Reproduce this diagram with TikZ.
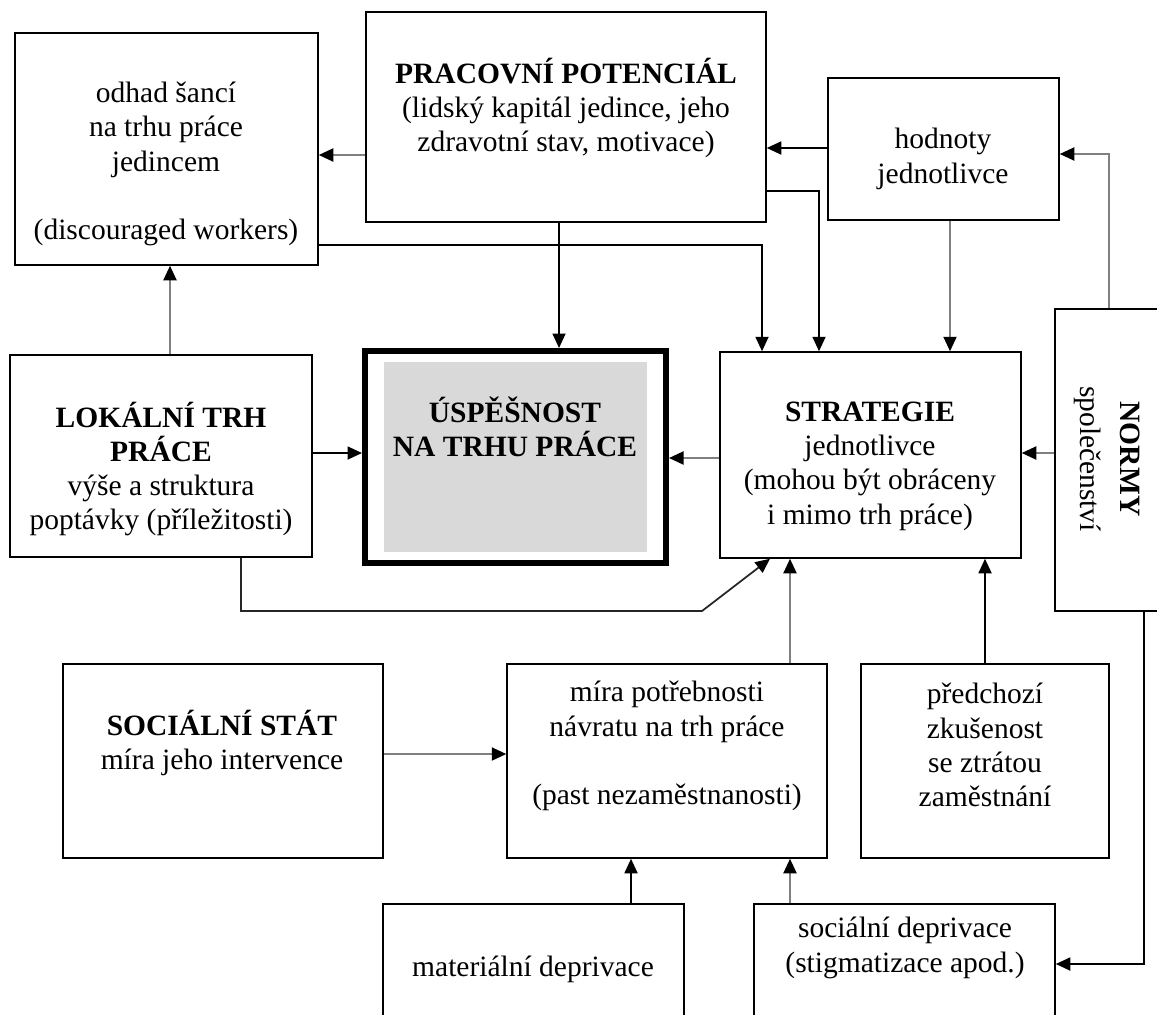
\documentclass[tikz,border=0pt]{standalone}
\usepackage{fontspec}
\setmainfont{Liberation Serif}
\usetikzlibrary{arrows.meta}
\definecolor{lgray}{RGB}{128,128,128}
\definecolor{ufill}{RGB}{217,217,217}
\begin{document}
\begin{tikzpicture}[x=0.4pt,y=-0.4pt,
  box/.style={draw=black,line width=0.6pt,inner sep=0pt,rectangle},
  wh/.style 2 args={minimum width=#1*0.4pt,minimum height=#2*0.4pt},
  txt/.style={align=center,inner sep=0pt,font=\fontsize{11.8}{13.7}\selectfont},
  tip/.style={-{Triangle[length=5.8pt,width=5.2pt,color=black]}},
  bl/.style={tip,draw=black,line width=0.7pt},
  gl/.style={tip,draw=lgray,line width=0.8pt},
  dl/.style={tip,draw=black!85,line width=0.7pt}]
\useasboundingbox (0,0) rectangle (1157,1014);
\clip (0,0) rectangle (1157,1014);
% boxes
\node[box,wh={303}{232}] (A) at (166.5,149) {};
\node[box,wh={400}{210}] (P) at (566,117) {};
\node[box,wh={231}{142}] (H) at (943.5,149) {};
\node[box,wh={302}{202}] (L) at (161,456) {};
\node[draw=black,line width=2.4pt,inner sep=0pt,wh={301}{212}] (U) at (515.5,457) {};
\node[fill=ufill,inner sep=0pt,wh={263}{190}] (Ui) at (515.5,457) {};
\node[box,wh={301}{206}] (S) at (870.5,455) {};
\node[box,wh={120}{302}] (N) at (1115,460) {};
\node[box,wh={320}{194}] (Soc) at (223,761) {};
\node[box,wh={320}{194}] (M) at (667,761) {};
\node[box,wh={248}{194}] (Pr) at (985,761) {};
\node[box,wh={301}{136}] (Mat) at (533.5,972) {};
\node[box,wh={301}{136}] (SD) at (904.5,972) {};
% texts
\node[txt] (At) at (166,164) {odhad šancí\\na trhu práce\\jedincem\\[13.7pt](discouraged workers)};
\node[txt] (Pt) at (566,108) {\textbf{PRACOVNÍ POTENCIÁL}\\(lidský kapitál jedince, jeho\\zdravotní stav, motivace)};
\node[txt] (Ht) at (943,159) {hodnoty\\jednotlivce};
\node[txt] (Lt) at (161,469) {\textbf{LOKÁLNÍ TRH}\\\textbf{PRÁCE}\\výše a struktura\\poptávky (příležitosti)};
\node[txt] (Ut) at (515,427) {\textbf{ÚSPĚŠNOST}\\\textbf{NA TRHU PRÁCE}};
\node[txt] (St) at (870,466) {\textbf{STRATEGIE}\\jednotlivce\\(mohou být obráceny\\i mimo trh práce)};
\node[txt,rotate=-90] (Nt) at (1107,459) {\textbf{NORMY}\\[2pt]společenství};
\node[txt] (Soct) at (222,743) {\textbf{SOCIÁLNÍ STÁT}\\míra jeho intervence};
\node[txt] (Mt) at (667,746) {míra potřebnosti\\návratu na trh práce\\[13.7pt](past nezaměstnanosti)};
\node[txt] (Prt) at (985,745) {předchozí\\zkušenost\\se ztrátou\\zaměstnání};
\node[txt] (Matt) at (533,969) {materiální deprivace};
\node[txt] (SDt) at (905,948) {sociální deprivace\\(stigmatizace apod.)};
% connectors
\draw[gl] (P.west |- 0,155) -- (A.east |- 0,155);
\draw[bl] (H.west |- 0,148) -- (P.east |- 0,148);
\draw[gl] (N.north -| 1109,0) |- (H.east |- 0,154);
\draw[bl] (A.east |- 0,245) -| (S.north -| 762,0);
\draw[bl] (P.south -| 559,0) -- (U.north -| 559,0);
\draw[bl] (P.east |- 0,191) -| (S.north -| 819,0);
\draw[gl] (H.south -| 950,0) -- (S.north -| 950,0);
\draw[gl] (L.north -| 170,0) -- (A.south -| 170,0);
\draw[bl] (L.east |- 0,453) -- (U.west |- 0,453);
\draw[gl] (S.west |- 0,458) -- (U.east |- 0,458);
\draw[gl] (N.west |- 0,453) -- (S.east |- 0,453);
\draw[dl] (L.south -| 241,0) |- (702,611) -- (S.south -| 770,0);
\draw[gl] (M.north -| 790,0) -- (S.south -| 790,0);
\draw[bl] (Pr.north -| 985,0) -- (S.south -| 985,0);
\draw[gl] (Soc.east |- 0,754) -- (M.west |- 0,754);
\draw[bl] (Mat.north -| 631,0) -- (M.south -| 631,0);
\draw[gl] (SD.north -| 790,0) -- (M.south -| 790,0);
\draw[bl] (N.south -| 1144,0) |- (SD.east |- 0,964);
\end{tikzpicture}
\end{document}
